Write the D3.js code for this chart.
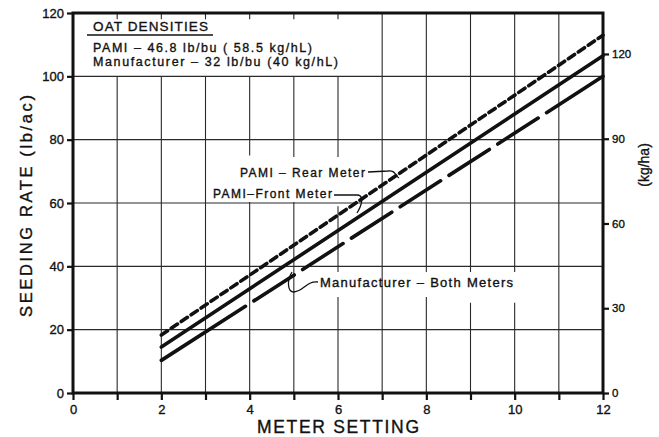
<!DOCTYPE html>
<html><head><meta charset="utf-8">
<script src="https://cdn.jsdelivr.net/npm/d3@7/dist/d3.min.js"></script>
<style>
html,body{margin:0;padding:0;background:#fff;}
svg{display:block;font-family:"Liberation Sans","DejaVu Sans",sans-serif;}
svg text{stroke:#111;stroke-width:0.35px;}
</style></head>
<body><svg id="c" width="659" height="437"></svg>
<script>
// ---- data ----
const meterSettings = [2, 12];
const pamiRear = [18.3, 113];
const pamiFront = [14.5, 106.5];
const manufacturer = [10.3, 100];
const xTicks = [0,1,2,3,4,5,6,7,8,9,10,11,12];
const xTickLabels = [0,2,4,6,8,10,12];
const yTicks = [0,20,40,60,80,100,120];
const kgTicks = [0,30,60,90,120];
const lbToKg = 1.12085;
// gridline breaks (data units) where labels sit
const vGridBreaks = {
  1:[[100,118]],2:[[100,118]],3:[[100,118]],4:[[60.3,75],[100,118]],
  5:[[60.3,74.5],[100,118]],6:[[59,74.5],[30.3,38.2],[100,118]],
  7:[],8:[[30.3,38.2]],9:[[28.5,38.2]],10:[[28.5,38.2]],11:[]
};
const titles = {x:"METER SETTING", y:"SEEDING RATE  (lb/ac)", y2:"(kg/ha)"};
const densityTitle = "OAT  DENSITIES";
const densityLines = ["PAMI \u2013 46.8  lb/bu ( 58.5 kg/hL)", "Manufacturer \u2013 32 lb/bu (40 kg/hL)"];

// ---- chart ----
const svg = d3.select("#c");
const x = d3.scaleLinear().domain([0,12]).range([73,603]);
const y = d3.scaleLinear().domain([0,120]).range([393,13]);
const yKg = d3.scaleLinear().domain([0,120*lbToKg]).range([393,13]);
const ink = "#111";

// grid: horizontal
const g = svg.append("g").attr("stroke","#2a2a2a").attr("stroke-width",1.1);
[20,40,60,80,100].forEach(v=>{
  g.append("line").attr("x1",x(0)).attr("x2",x(12)).attr("y1",y(v)).attr("y2",y(v));
});
// grid: vertical with breaks
d3.range(1,12).forEach(k=>{
  const br = (vGridBreaks[k]||[]).slice().sort((a,b)=>a[0]-b[0]);
  let start=0;
  br.forEach(([a,b])=>{
    g.append("line").attr("x1",x(k)).attr("x2",x(k)).attr("y1",y(start)).attr("y2",y(a));
    start=b;
  });
  g.append("line").attr("x1",x(k)).attr("x2",x(k)).attr("y1",y(start)).attr("y2",y(120));
});

// axes
const fs = 13;
const axL = svg.append("g").attr("transform",`translate(${x(0)},0)`)
  .call(d3.axisLeft(y).tickValues(yTicks).tickSize(6).tickPadding(3).tickFormat(d3.format("d")));
const axB = svg.append("g").attr("transform",`translate(0,${y(0)})`)
  .call(d3.axisBottom(x).tickValues(xTicks).tickSize(7).tickPadding(3)
    .tickFormat(d=>xTickLabels.includes(d)?d:""));
const axR = svg.append("g").attr("transform",`translate(${x(12)},0)`)
  .call(d3.axisRight(yKg).tickValues(kgTicks).tickSize(6).tickPadding(3).tickFormat(d3.format("d")));
[axL,axB,axR].forEach(a=>{
  a.select(".domain").remove();
  a.selectAll(".tick line").attr("stroke",ink).attr("stroke-width",2.2);
  a.selectAll("text").attr("fill",ink).attr("font-size",fs).attr("font-family","Liberation Sans, sans-serif");
});
axR.selectAll("text").attr("font-size",11.5);
axB.selectAll("text").attr("dy","0.85em");
// frame
svg.append("rect").attr("x",x(0)).attr("y",y(120)).attr("width",x(12)-x(0)).attr("height",y(0)-y(120))
  .attr("fill","none").attr("stroke",ink).attr("stroke-width",3);

// series lines
const line = d3.line().x(d=>x(d[0])).y(d=>y(d[1]));
const series = [
  {vals:pamiRear, dash:"7.5,4.5"},
  {vals:pamiFront, dash:null},
  {vals:manufacturer, dash:"100,10,48,10,48,10,48,10,48,10,48,10,48,10,80"}
];
series.forEach(s=>{
  svg.append("path").datum(meterSettings.map((m,i)=>[m,s.vals[i]]))
    .attr("d",line).attr("fill","none").attr("stroke",ink).attr("stroke-width",3.6)
    .attr("stroke-linecap","round").attr("stroke-dasharray",s.dash);
});

// labels
function txt(t, px, py, size, len){
  const e = svg.append("text").attr("x",px).attr("y",py).attr("font-size",size).attr("fill",ink).text(t);
  if(len) e.attr("textLength",len).attr("lengthAdjust","spacing");
  return e;
}
txt(densityTitle, 93, 31, 13.5, 115);
svg.append("line").attr("x1",87).attr("x2",213).attr("y1",35).attr("y2",35).attr("stroke",ink).attr("stroke-width",1.5);
txt(densityLines[0], 93, 52, 12.5, 219);
txt(densityLines[1], 93, 66, 12.5, 245);

txt("PAMI \u2013 Rear Meter", 240, 177, 12, 125);
txt("PAMI\u2013Front Meter", 213, 198, 12, 119);
txt("Manufacturer \u2013 Both Meters", 320, 287, 13, 193);

// leaders
const ld = svg.append("g").attr("fill","none").attr("stroke",ink).attr("stroke-width",1.3);
ld.append("path").attr("d",`M368,172 L388,171 C396,170 395,176 399,178`);
ld.append("path").attr("d",`M334,195 L358,195 C364,196 362,205 357,213`);
ld.append("path").attr("d",`M318,282 C306,281 304,291 294,292 C287,292 287,280 292,272`);

// axis titles
txt(titles.x, 257, 433, 17.5, 162).attr("stroke-width",0.7);
svg.append("text").attr("transform",`translate(32,206) rotate(-90)`).attr("text-anchor","middle")
  .attr("font-size",16.5).attr("stroke-width",0.7).attr("fill",ink)
  .attr("textLength",222).attr("lengthAdjust","spacing").text(titles.y);
svg.append("text").attr("transform",`translate(649,165) rotate(-90)`).attr("text-anchor","middle")
  .attr("font-size",14).attr("stroke-width",0.5).attr("fill",ink).text(titles.y2);
</script></body></html>
